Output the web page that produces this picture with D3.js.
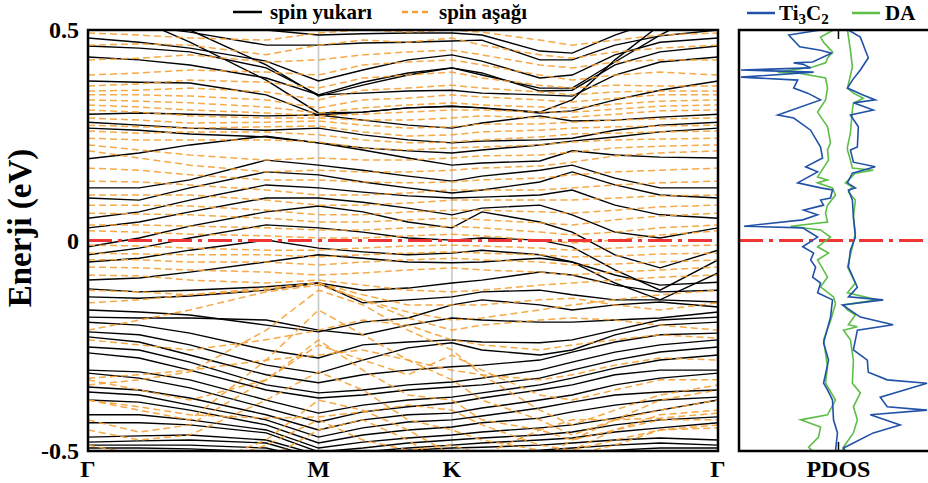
<!DOCTYPE html>
<html><head><meta charset="utf-8">
<script src="https://cdn.jsdelivr.net/npm/d3@7"></script>
<style>
body{margin:0;background:#fff}
svg{display:block}
text{font-family:"Liberation Serif","Times New Roman",serif;font-weight:bold;fill:#000}
</style>
</head><body>
<svg id="chart" width="928" height="483"></svg>
<script>
// k-path positions (reciprocal-space distance)
const kPoints = [0, 0.128, 0.255, 0.446, 0.577, 0.688, 0.801, 0.911, 0.986, 1.131, 1.212, 1.319, 1.432, 1.577];
const symLabels = ["Γ", "M", "K", "Γ"];
const symPositions = [0, 0.577, 0.911, 1.577];
const yTickValues = [0.5, 0, -0.5];
const yTickLabels = ["0.5", "0", "-0.5"];

// spin up bands (eV) at kPoints
const spinUpBands = [
[0.619,0.559,0.500,0.417,0.343,0.369,0.393,0.410,0.393,0.362,0.362,0.424,0.488,0.559],
[0.595,0.524,0.471,0.381,0.303,0.305,0.315,0.319,0.315,0.305,0.334,0.429,0.512,0.571],
[0.548,0.536,0.524,0.500,0.488,0.491,0.493,0.493,0.488,0.450,0.445,0.488,0.524,0.543],
[0.519,0.510,0.495,0.464,0.464,0.469,0.471,0.474,0.476,0.429,0.429,0.464,0.486,0.500],
[0.481,0.471,0.457,0.426,0.379,0.405,0.429,0.441,0.426,0.386,0.393,0.441,0.471,0.481],
[0.462,0.457,0.448,0.410,0.346,0.376,0.398,0.410,0.398,0.355,0.357,0.417,0.448,0.462],
[0.436,0.429,0.417,0.386,0.346,0.350,0.355,0.357,0.350,0.346,0.343,0.393,0.424,0.436],
[0.379,0.376,0.374,0.346,0.298,0.305,0.315,0.319,0.315,0.303,0.308,0.334,0.357,0.379],
[0.300,0.303,0.300,0.296,0.298,0.286,0.274,0.267,0.279,0.296,0.284,0.286,0.293,0.300],
[0.281,0.274,0.267,0.262,0.267,0.251,0.239,0.232,0.236,0.239,0.243,0.262,0.274,0.281],
[0.267,0.262,0.253,0.246,0.232,0.220,0.213,0.208,0.215,0.227,0.236,0.246,0.258,0.267],
[0.194,0.208,0.227,0.248,0.232,0.215,0.196,0.179,0.184,0.189,0.213,0.203,0.198,0.196],
[0.125,0.125,0.144,0.191,0.179,0.167,0.153,0.141,0.153,0.167,0.179,0.148,0.125,0.125],
[0.101,0.096,0.125,0.163,0.156,0.139,0.125,0.113,0.120,0.139,0.163,0.132,0.108,0.101],
[0.053,0.068,0.096,0.132,0.125,0.115,0.106,0.101,0.103,0.108,0.120,0.084,0.061,0.053],
[0.030,0.044,0.068,0.101,0.101,0.091,0.077,0.061,0.077,0.084,0.061,0.020,0.006,0.030],
[-0.015,0.006,0.034,0.068,0.082,0.068,0.044,0.030,0.068,0.044,0.020,-0.034,-0.065,-0.023],
[-0.034,-0.018,0.006,0.037,0.030,0.020,0.006,0.001,0.006,0.001,-0.015,-0.070,-0.118,-0.046],
[-0.051,-0.042,-0.023,0.001,-0.018,-0.027,-0.034,-0.030,-0.023,-0.034,-0.051,-0.101,-0.141,-0.077],
[-0.094,-0.089,-0.075,-0.051,-0.034,-0.042,-0.051,-0.053,-0.051,-0.042,-0.051,-0.082,-0.106,-0.099],
[-0.115,-0.122,-0.118,-0.110,-0.101,-0.118,-0.113,-0.101,-0.094,-0.075,-0.082,-0.106,-0.122,-0.118],
[-0.134,-0.137,-0.132,-0.118,-0.101,-0.148,-0.141,-0.134,-0.122,-0.118,-0.129,-0.141,-0.141,-0.146],
[-0.165,-0.170,-0.177,-0.201,-0.217,-0.194,-0.184,-0.153,-0.141,-0.153,-0.165,-0.153,-0.146,-0.158],
[-0.182,-0.184,-0.184,-0.189,-0.213,-0.224,-0.201,-0.184,-0.189,-0.194,-0.194,-0.189,-0.184,-0.170],
[-0.194,-0.201,-0.220,-0.260,-0.279,-0.248,-0.241,-0.236,-0.241,-0.243,-0.236,-0.213,-0.189,-0.182],
[-0.217,-0.224,-0.248,-0.296,-0.315,-0.284,-0.255,-0.243,-0.260,-0.272,-0.260,-0.224,-0.201,-0.194],
[-0.229,-0.241,-0.272,-0.319,-0.338,-0.319,-0.308,-0.300,-0.296,-0.284,-0.265,-0.241,-0.224,-0.220],
[-0.253,-0.260,-0.289,-0.343,-0.362,-0.355,-0.343,-0.336,-0.327,-0.308,-0.289,-0.265,-0.248,-0.236],
[-0.267,-0.279,-0.308,-0.355,-0.374,-0.367,-0.355,-0.348,-0.343,-0.327,-0.308,-0.284,-0.265,-0.253],
[-0.308,-0.312,-0.331,-0.379,-0.410,-0.391,-0.379,-0.372,-0.362,-0.343,-0.327,-0.303,-0.284,-0.272],
[-0.315,-0.327,-0.350,-0.398,-0.431,-0.407,-0.395,-0.386,-0.374,-0.355,-0.343,-0.319,-0.308,-0.308],
[-0.348,-0.355,-0.374,-0.414,-0.450,-0.426,-0.414,-0.410,-0.398,-0.379,-0.367,-0.343,-0.327,-0.315],
[-0.360,-0.367,-0.391,-0.426,-0.467,-0.445,-0.431,-0.426,-0.417,-0.398,-0.384,-0.367,-0.360,-0.355],
[-0.379,-0.384,-0.403,-0.438,-0.481,-0.462,-0.450,-0.443,-0.433,-0.422,-0.407,-0.391,-0.379,-0.372],
[-0.414,-0.414,-0.426,-0.450,-0.493,-0.479,-0.469,-0.462,-0.455,-0.445,-0.438,-0.422,-0.403,-0.379],
[-0.433,-0.433,-0.438,-0.457,-0.502,-0.493,-0.481,-0.474,-0.469,-0.462,-0.455,-0.438,-0.426,-0.419],
[-0.467,-0.464,-0.462,-0.474,-0.509,-0.502,-0.493,-0.486,-0.481,-0.474,-0.469,-0.455,-0.445,-0.433],
[-0.479,-0.476,-0.474,-0.481,-0.517,-0.509,-0.498,-0.493,-0.491,-0.486,-0.481,-0.474,-0.469,-0.474],
[-0.486,-0.486,-0.486,-0.493,-0.521,-0.517,-0.509,-0.502,-0.502,-0.498,-0.493,-0.486,-0.481,-0.486],
[-0.493,-0.493,-0.495,-0.502,-0.526,-0.521,-0.517,-0.512,-0.509,-0.507,-0.502,-0.498,-0.493,-0.493]
];

// spin down bands (eV) at kPoints
const spinDownBands = [
[0.493,0.488,0.481,0.476,0.493,0.500,0.495,0.500,0.495,0.476,0.464,0.476,0.488,0.493],
[0.464,0.467,0.464,0.441,0.464,0.476,0.471,0.481,0.464,0.441,0.433,0.448,0.457,0.464],
[0.429,0.433,0.441,0.424,0.429,0.441,0.448,0.452,0.441,0.417,0.410,0.424,0.429,0.429],
[0.393,0.398,0.405,0.400,0.393,0.417,0.424,0.429,0.417,0.393,0.381,0.393,0.400,0.393],
[0.367,0.372,0.381,0.376,0.362,0.386,0.393,0.400,0.386,0.369,0.362,0.369,0.367,0.367],
[0.355,0.357,0.362,0.353,0.334,0.357,0.362,0.369,0.362,0.353,0.346,0.353,0.355,0.355],
[0.346,0.346,0.343,0.334,0.315,0.334,0.338,0.346,0.341,0.334,0.329,0.338,0.346,0.346],
[0.334,0.331,0.327,0.317,0.303,0.315,0.322,0.327,0.322,0.317,0.315,0.324,0.331,0.334],
[0.322,0.317,0.310,0.303,0.296,0.300,0.305,0.310,0.310,0.305,0.305,0.312,0.319,0.322],
[0.310,0.305,0.296,0.291,0.291,0.286,0.286,0.291,0.296,0.291,0.293,0.300,0.308,0.310],
[0.291,0.286,0.279,0.281,0.284,0.274,0.267,0.270,0.277,0.277,0.281,0.286,0.289,0.291],
[0.274,0.270,0.267,0.270,0.272,0.258,0.248,0.251,0.258,0.262,0.267,0.270,0.272,0.274],
[0.260,0.255,0.258,0.258,0.251,0.239,0.232,0.234,0.239,0.246,0.253,0.255,0.258,0.260],
[0.243,0.239,0.239,0.239,0.234,0.220,0.215,0.220,0.222,0.227,0.234,0.239,0.241,0.243],
[0.227,0.215,0.203,0.191,0.196,0.191,0.191,0.196,0.201,0.203,0.210,0.220,0.224,0.227],
[0.213,0.196,0.179,0.163,0.167,0.163,0.163,0.167,0.172,0.177,0.186,0.201,0.208,0.213],
[0.172,0.167,0.156,0.144,0.144,0.139,0.137,0.139,0.144,0.148,0.156,0.163,0.167,0.172],
[0.141,0.139,0.132,0.120,0.108,0.108,0.113,0.120,0.120,0.120,0.125,0.132,0.137,0.141],
[0.108,0.108,0.108,0.096,0.084,0.084,0.089,0.096,0.096,0.096,0.096,0.101,0.106,0.108],
[0.084,0.084,0.082,0.072,0.061,0.061,0.068,0.072,0.072,0.068,0.065,0.072,0.080,0.084],
[0.065,0.063,0.061,0.053,0.044,0.044,0.049,0.053,0.049,0.042,0.037,0.049,0.058,0.065],
[0.037,0.037,0.034,0.030,0.025,0.025,0.030,0.034,0.030,0.020,0.013,0.020,0.030,0.037],
[0.023,0.020,0.015,0.011,0.006,0.006,0.011,0.015,0.011,0.001,-0.006,0.001,0.013,0.023],
[-0.011,-0.013,-0.018,-0.023,-0.023,-0.018,-0.013,-0.011,-0.013,-0.018,-0.023,-0.018,-0.013,-0.011],
[-0.030,-0.032,-0.034,-0.034,-0.039,-0.034,-0.030,-0.027,-0.030,-0.034,-0.039,-0.037,-0.032,-0.030],
[-0.046,-0.046,-0.051,-0.051,-0.058,-0.051,-0.046,-0.042,-0.046,-0.051,-0.058,-0.056,-0.051,-0.046],
[-0.063,-0.065,-0.070,-0.075,-0.082,-0.077,-0.070,-0.065,-0.070,-0.075,-0.082,-0.075,-0.070,-0.063],
[-0.082,-0.084,-0.094,-0.101,-0.094,-0.106,-0.118,-0.122,-0.118,-0.106,-0.101,-0.094,-0.087,-0.082],
[-0.118,-0.122,-0.129,-0.118,-0.101,-0.141,-0.170,-0.189,-0.184,-0.165,-0.153,-0.141,-0.129,-0.118],
[-0.148,-0.141,-0.129,-0.113,-0.101,-0.129,-0.153,-0.153,-0.153,-0.141,-0.137,-0.153,-0.165,-0.148],
[-0.213,-0.189,-0.165,-0.122,-0.106,-0.141,-0.184,-0.213,-0.201,-0.189,-0.184,-0.189,-0.201,-0.213],
[-0.236,-0.248,-0.260,-0.236,-0.213,-0.189,-0.201,-0.236,-0.248,-0.260,-0.248,-0.236,-0.224,-0.232],
[-0.327,-0.319,-0.308,-0.284,-0.272,-0.260,-0.284,-0.308,-0.319,-0.331,-0.319,-0.296,-0.279,-0.284],
[-0.331,-0.355,-0.379,-0.331,-0.248,-0.284,-0.319,-0.272,-0.308,-0.367,-0.379,-0.355,-0.331,-0.331],
[-0.343,-0.331,-0.312,-0.213,-0.118,-0.153,-0.213,-0.260,-0.319,-0.403,-0.438,-0.403,-0.367,-0.343],
[-0.379,-0.403,-0.426,-0.284,-0.165,-0.224,-0.284,-0.331,-0.379,-0.426,-0.462,-0.426,-0.403,-0.379],
[-0.426,-0.455,-0.438,-0.331,-0.236,-0.308,-0.367,-0.379,-0.426,-0.450,-0.474,-0.450,-0.426,-0.426],
[-0.450,-0.474,-0.462,-0.379,-0.312,-0.355,-0.426,-0.450,-0.474,-0.498,-0.509,-0.486,-0.450,-0.438],
[-0.486,-0.509,-0.545,-0.474,-0.379,-0.403,-0.450,-0.509,-0.545,-0.521,-0.474,-0.426,-0.379,-0.355],
[-0.521,-0.545,-0.569,-0.521,-0.450,-0.426,-0.474,-0.545,-0.581,-0.545,-0.498,-0.450,-0.414,-0.403],
[-0.545,-0.569,-0.545,-0.486,-0.426,-0.474,-0.498,-0.486,-0.509,-0.450,-0.426,-0.426,-0.422,-0.410],
[-0.379,-0.395,-0.414,-0.422,-0.419,-0.407,-0.391,-0.403,-0.438,-0.486,-0.498,-0.474,-0.450,-0.445]
];

// PDOS: [energy (eV), DOS (arb.)]; negative = spin down side
const pdosTi3C2Down = [[0.50,-1.8],[0.488,-5.0],[0.46,-3.9],[0.452,-1.8],[0.445,-0.7],[0.424,-2.6],[0.422,-4.5],[0.418,-3.5],[0.41,-2.8],[0.405,-9.8],[0.40,-2.5],[0.388,-9.8],[0.381,-4.1],[0.362,-4.5],[0.35,-3.1],[0.334,-1.8],[0.298,-6.1],[0.291,-4.5],[0.262,-2.8],[0.222,-1.8],[0.196,-1.6],[0.175,-3.3],[0.163,-2.1],[0.137,-4.1],[0.125,-1.8],[0.12,-0.6],[0.101,-0.8],[0.096,-1.8],[0.084,-1.5],[0.072,-3.5],[0.061,-2.1],[0.049,-3.6],[0.034,-9.5],[0.030,-3.6],[0.008,-2.1],[-0.015,-3.6],[-0.03,-2.5],[-0.046,-2.8],[-0.063,-2.3],[-0.087,-2.6],[-0.101,-1.8],[-0.124,-2.1],[-0.141,-0.6],[-0.182,-0.8],[-0.243,-1.5],[-0.284,-1.0],[-0.339,-1.5],[-0.355,-1.1],[-0.379,-0.6],[-0.426,-0.5],[-0.457,-0.1],[-0.50,-0.3]];
const pdosDADown = [[0.50,-0.5],[0.483,-1.8],[0.471,-1.5],[0.448,-0.6],[0.433,-1.1],[0.422,-1.3],[0.412,-2.6],[0.40,-6.1],[0.398,-4.1],[0.386,-1.3],[0.362,-1.1],[0.334,-1.3],[0.305,-2.1],[0.27,-1.1],[0.232,-0.8],[0.215,-1.1],[0.191,-1.0],[0.151,-2.1],[0.144,-1.1],[0.137,-2.1],[0.125,-0.6],[0.108,-0.3],[0.084,-1.1],[0.065,-1.3],[0.044,-1.1],[0.034,-4.8],[0.025,-1.8],[0.008,-0.8],[-0.015,-2.1],[-0.03,-1.0],[-0.046,-2.1],[-0.087,-1.1],[-0.11,-1.8],[-0.134,-0.5],[-0.15,-0.3],[-0.191,-0.8],[-0.236,-1.5],[-0.30,-1.1],[-0.339,-1.3],[-0.379,-0.3],[-0.414,-1.1],[-0.426,-3.8],[-0.443,-1.8],[-0.467,-2.0],[-0.491,-3.0],[-0.50,-2.6]];
const pdosDAUp = [[0.50,0.9],[0.452,1.2],[0.412,1.4],[0.362,0.9],[0.35,1.5],[0.338,2.5],[0.326,1.5],[0.31,1.4],[0.255,1.2],[0.222,0.9],[0.215,0.9],[0.191,1.2],[0.172,1.4],[0.167,3.5],[0.16,1.7],[0.137,0.7],[0.127,1.4],[0.115,1.0],[0.096,1.7],[0.056,1.5],[0.018,1.7],[-0.015,1.4],[-0.063,0.9],[-0.101,1.7],[-0.124,0.9],[-0.141,3.9],[-0.153,0.5],[-0.165,0.9],[-0.177,1.7],[-0.20,1.0],[-0.205,1.9],[-0.213,0.5],[-0.236,1.2],[-0.284,1.5],[-0.339,1.4],[-0.362,2.2],[-0.395,1.5],[-0.426,1.9],[-0.457,1.5],[-0.491,0.5],[-0.50,0.4]];
const pdosTi3C2Up = [[0.50,1.0],[0.483,2.2],[0.452,2.7],[0.434,3.0],[0.405,2.2],[0.381,1.4],[0.362,0.9],[0.346,2.4],[0.334,3.7],[0.327,1.5],[0.31,3.5],[0.298,1.2],[0.27,2.0],[0.222,1.9],[0.215,1.2],[0.186,1.5],[0.175,3.7],[0.16,1.4],[0.137,0.9],[0.125,1.7],[0.12,1.0],[0.096,1.4],[0.056,1.5],[0.008,1.7],[-0.023,1.2],[-0.063,1.0],[-0.111,1.9],[-0.134,1.0],[-0.141,4.5],[-0.153,0.4],[-0.182,2.2],[-0.20,5.5],[-0.213,1.9],[-0.26,1.5],[-0.284,2.9],[-0.313,3.0],[-0.331,4.9],[-0.339,8.9],[-0.372,4.2],[-0.395,4.9],[-0.403,8.9],[-0.414,3.2],[-0.438,6.2],[-0.457,3.5],[-0.481,1.5],[-0.493,0.5],[-0.50,0.7]];

const legendBands = ["spin yukarı", "spin aşağı"];
const colors = {up: "#000000", down: "#F5A033", ti: "#2152A8", da: "#5DBE47", fermi: "#EE3535"};

const svg = d3.select("#chart");
const band = {left: 88, right: 718, top: 30, bottom: 451};
const dosBox = {left: 739, right: 930, top: 30, bottom: 451};

const x = d3.scaleLinear().domain([0, 1.577]).range([band.left, band.right]);
const y = d3.scaleLinear().domain([-0.5, 0.5]).range([band.bottom, band.top]);
const xd = d3.scaleLinear().domain([-10, 9]).range([739, 928]);

const defs = svg.append("defs");
defs.append("clipPath").attr("id", "clipBand").append("rect")
  .attr("x", band.left).attr("y", band.top).attr("width", band.right - band.left).attr("height", band.bottom - band.top);
defs.append("clipPath").attr("id", "clipDos").append("rect")
  .attr("x", dosBox.left).attr("y", dosBox.top).attr("width", dosBox.right - dosBox.left).attr("height", dosBox.bottom - dosBox.top);

// high-symmetry vertical lines
svg.append("g").selectAll("line").data(symPositions.slice(1, 3)).join("line")
  .attr("x1", d => x(d)).attr("x2", d => x(d)).attr("y1", band.top).attr("y2", band.bottom)
  .attr("stroke", "#c8c8c8").attr("stroke-width", 1.6);

const bandLine = d3.line().x((d, i) => x(kPoints[i])).y(d => y(d));
const gBands = svg.append("g").attr("clip-path", "url(#clipBand)");
gBands.append("g").selectAll("path").data(spinUpBands).join("path")
  .attr("d", bandLine).attr("fill", "none").attr("stroke", colors.up).attr("stroke-width", 1.4);
gBands.append("g").selectAll("path").data(spinDownBands).join("path")
  .attr("d", bandLine).attr("fill", "none").attr("stroke", colors.down).attr("stroke-width", 1.5)
  .attr("stroke-dasharray", "7,4").attr("opacity", 0.9);

// Fermi level
const fermiDash = "24,6,4,6";
svg.append("line").attr("x1", band.left).attr("x2", band.right).attr("y1", y(0)).attr("y2", y(0))
  .attr("stroke", colors.fermi).attr("stroke-width", 3).attr("stroke-dasharray", fermiDash);
svg.append("line").attr("x1", dosBox.left).attr("x2", 928).attr("y1", y(0)).attr("y2", y(0))
  .attr("stroke", colors.fermi).attr("stroke-width", 3).attr("stroke-dasharray", fermiDash);

// band frame
svg.append("rect").attr("x", band.left).attr("y", band.top).attr("width", band.right - band.left)
  .attr("height", band.bottom - band.top).attr("fill", "none").attr("stroke", "#000").attr("stroke-width", 2.5);

// y ticks
svg.append("g").selectAll("text").data(yTickValues).join("text")
  .attr("x", 79).attr("y", d => y(d)).attr("dy", "0.35em").attr("text-anchor", "end")
  .attr("font-size", 24).text((d, i) => yTickLabels[i]);

// x labels
svg.append("g").selectAll("text").data(symPositions).join("text")
  .attr("x", d => x(d)).attr("y", 477).attr("text-anchor", "middle").attr("font-size", 24)
  .text((d, i) => symLabels[i]);

// y title
svg.append("text").attr("transform", "translate(31,228) rotate(-90)").attr("text-anchor", "middle")
  .attr("font-size", 33).text("Enerji (eV)");

// legend top
const lg = svg.append("g");
lg.append("line").attr("x1", 233).attr("x2", 262).attr("y1", 12).attr("y2", 12).attr("stroke", colors.up).attr("stroke-width", 2.5);
lg.append("text").attr("x", 270).attr("y", 19).attr("font-size", 21).text(legendBands[0]);
lg.append("line").attr("x1", 402).attr("x2", 432).attr("y1", 12).attr("y2", 12).attr("stroke", colors.down).attr("stroke-width", 2.5).attr("stroke-dasharray", "6,4");
lg.append("text").attr("x", 439).attr("y", 19).attr("font-size", 21).text(legendBands[1]);

// PDOS panel
const dosLine = d3.line().x(d => xd(d[1])).y(d => y(d[0]));
const gDos = svg.append("g").attr("clip-path", "url(#clipDos)");
[[pdosDADown, colors.da], [pdosDAUp, colors.da], [pdosTi3C2Down, colors.ti], [pdosTi3C2Up, colors.ti]].forEach(([data, c]) => {
  gDos.append("path").datum(data).attr("d", dosLine).attr("fill", "none").attr("stroke", c).attr("stroke-width", 1.6);
});
svg.append("path").attr("d", `M${dosBox.right},${dosBox.top}H${dosBox.left}V${dosBox.bottom}H${dosBox.right}`)
  .attr("fill", "none").attr("stroke", "#000").attr("stroke-width", 2.5);
svg.append("line").attr("x1", xd(0)).attr("x2", xd(0)).attr("y1", dosBox.top).attr("y2", dosBox.top + 9).attr("stroke", "#000").attr("stroke-width", 1.5);
svg.append("line").attr("x1", xd(0)).attr("x2", xd(0)).attr("y1", dosBox.bottom).attr("y2", dosBox.bottom - 9).attr("stroke", "#000").attr("stroke-width", 1.5);
svg.append("text").attr("x", xd(0)).attr("y", 477).attr("text-anchor", "middle").attr("font-size", 24).text("PDOS");

// PDOS legend
const lg2 = svg.append("g");
lg2.append("line").attr("x1", 747).attr("x2", 775).attr("y1", 13).attr("y2", 13).attr("stroke", colors.ti).attr("stroke-width", 2.5);
const tiText = lg2.append("text").attr("x", 779).attr("y", 20).attr("font-size", 21);
tiText.append("tspan").text("Ti");
tiText.append("tspan").attr("font-size", 15).attr("dy", 4).text("3");
tiText.append("tspan").attr("dy", -4).text("C");
tiText.append("tspan").attr("font-size", 15).attr("dy", 4).text("2");
lg2.append("line").attr("x1", 852).attr("x2", 880).attr("y1", 13).attr("y2", 13).attr("stroke", colors.da).attr("stroke-width", 2.5);
lg2.append("text").attr("x", 885).attr("y", 20).attr("font-size", 21).text("DA");
</script>
</body></html>
